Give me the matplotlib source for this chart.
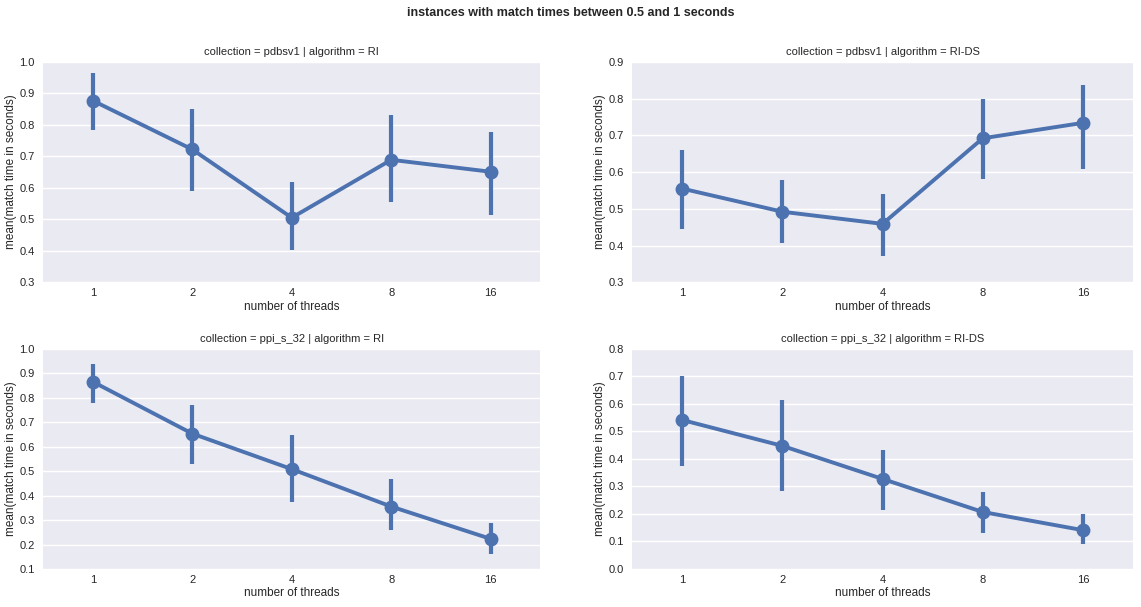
import numpy as np
import matplotlib.pyplot as plt

# thread counts (categorical x axis)
threads = ["1", "2", "4", "8", "16"]

# pdbsv1 / RI
pdb_ri_mean = [0.877, 0.722, 0.505, 0.689, 0.651]
pdb_ri_lo = [0.785, 0.590, 0.403, 0.554, 0.515]
pdb_ri_hi = [0.964, 0.852, 0.620, 0.832, 0.776]

# pdbsv1 / RI-DS
pdb_rids_mean = [0.555, 0.492, 0.459, 0.692, 0.734]
pdb_rids_lo = [0.445, 0.407, 0.372, 0.582, 0.609]
pdb_rids_hi = [0.660, 0.579, 0.541, 0.798, 0.838]

# ppi_s_32 / RI
ppi_ri_mean = [0.865, 0.653, 0.508, 0.355, 0.223]
ppi_ri_lo = [0.777, 0.527, 0.372, 0.258, 0.162]
ppi_ri_hi = [0.937, 0.769, 0.646, 0.468, 0.289]

# ppi_s_32 / RI-DS
ppi_rids_mean = [0.541, 0.447, 0.327, 0.207, 0.141]
ppi_rids_lo = [0.374, 0.282, 0.213, 0.132, 0.089]
ppi_rids_hi = [0.700, 0.614, 0.433, 0.278, 0.198]

panels = [
    ("collection = pdbsv1 | algorithm = RI", pdb_ri_mean, pdb_ri_lo, pdb_ri_hi, (0.3, 1.0)),
    ("collection = pdbsv1 | algorithm = RI-DS", pdb_rids_mean, pdb_rids_lo, pdb_rids_hi, (0.3, 0.9)),
    ("collection = ppi_s_32 | algorithm = RI", ppi_ri_mean, ppi_ri_lo, ppi_ri_hi, (0.1, 1.0)),
    ("collection = ppi_s_32 | algorithm = RI-DS", ppi_rids_mean, ppi_rids_lo, ppi_rids_hi, (0.0, 0.8)),
]

plt.rcParams['font.family'] = ['Liberation Sans', 'DejaVu Sans']
text_col = '#262626'
blue = '#4C72B0'

fig = plt.figure(figsize=(11.41, 6.07), dpi=100)
fig.patch.set_facecolor('white')

# axes rectangles [left, bottom, width, height]
rects = [
    [0.0377, 0.535, 0.436, 0.363],
    [0.554, 0.535, 0.439, 0.363],
    [0.0377, 0.0626, 0.436, 0.363],
    [0.554, 0.0626, 0.439, 0.363],
]

for rect, (title, mean, lo, hi, ylim) in zip(rects, panels):
    ax = fig.add_axes(rect)
    ax.set_facecolor('#EAEAF2')
    for s in ax.spines.values():
        s.set_visible(False)
    ax.set_axisbelow(True)
    ax.grid(axis='y', color='white', linewidth=1)

    x = np.arange(len(threads))
    ax.vlines(x, lo, hi, color=blue, linewidth=3, zorder=2)
    ax.plot(x, mean, color=blue, linewidth=2.8, marker='o', markersize=9, zorder=3)

    ax.set_xlim(-0.5, len(threads) - 0.5)
    ax.set_ylim(*ylim)
    yt = np.arange(ylim[0], ylim[1] + 0.001, 0.1)
    ax.set_yticks(yt)
    ax.set_yticklabels([f"{v:.1f}" for v in yt])
    ax.set_xticks(x)
    ax.set_xticklabels(threads)
    ax.tick_params(axis='y', length=0, labelsize=8, colors=text_col, pad=6)
    ax.tick_params(axis='x', length=0, labelsize=8, colors=text_col, pad=4)
    ax.set_title(title, fontsize=8, color=text_col, pad=5)
    ax.set_xlabel("number of threads", fontsize=8.5, color=text_col, labelpad=2)
    ax.set_ylabel("mean(match time in seconds)", fontsize=8.5, color=text_col, labelpad=2)

fig.suptitle("instances with match times between 0.5 and 1 seconds",
             fontsize=9, fontweight='bold', color=text_col, y=0.988)

fig.savefig("out.png", dpi=100)
